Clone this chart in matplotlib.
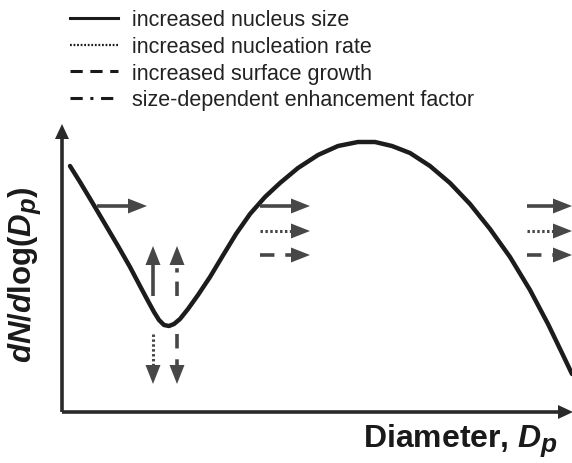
import matplotlib
matplotlib.use("Agg")
import matplotlib.pyplot as plt
from matplotlib.lines import Line2D
import matplotlib._mathtext as _mt
import numpy as np

_mt.SHRINK_FACTOR = 0.82

plt.rcParams['font.family'] = ['Liberation Sans', 'DejaVu Sans']
plt.rcParams['mathtext.fontset'] = 'custom'
plt.rcParams['mathtext.it'] = 'Liberation Sans:italic:bold'
plt.rcParams['mathtext.rm'] = 'Liberation Sans:bold'
plt.rcParams['mathtext.bf'] = 'Liberation Sans:bold'

# ---- data (schematic size distribution, arbitrary units) ----
diameter = [8, 18, 30, 43, 56, 68, 78, 86, 92, 97, 102, 107, 112, 118, 126, 136,
            148, 160, 174, 188, 203, 218, 236, 256, 276, 296, 313, 330, 348, 368,
            388, 408, 428, 448, 468, 486, 500, 510]
dndlogdp = [246, 230, 210, 188, 166, 145, 126, 111, 100, 92, 87, 86, 88, 93, 103, 117,
            135, 155, 178, 198, 215, 229, 244, 257, 266, 270, 270, 266, 259, 246,
            229, 208, 183, 155, 122, 88, 59, 38]

# arrows: (x_tail, y_tail, x_tip, y_tip, style)
arrow_tail_x = [35, 91, 115, 91, 115, 198, 198, 198, 465, 465, 465]
arrow_tail_y = [206, 116, 116, 78, 78, 206, 181, 157, 206, 181, 157]
arrow_tip_x = [85, 91, 115, 91, 115, 248, 248, 248, 510, 510, 510]
arrow_tip_y = [206, 166, 166, 28, 28, 206, 181, 157, 206, 181, 157]
arrow_style = ['solid', 'solid', 'dashdot', 'dotted', 'dashed',
               'solid', 'dotted', 'dashed', 'solid', 'dotted', 'dashed']

legend_labels = ['increased nucleus size', 'increased nucleation rate',
                 'increased surface growth', 'size-dependent enhancement factor']
legend_styles = ['solid', 'dotted', 'dashed', 'dashdot']

W, H = 572, 464
fig = plt.figure(figsize=(W / 100, H / 100), dpi=100)
ax = fig.add_axes([62 / W, (H - 413) / H, 510 / W, 288 / H])
ax.set_xlim(0, 510)
ax.set_ylim(0, 288)
ax.axis('off')

curve_c = '#1c1c1c'
arrow_c = '#474747'
axis_c = '#2a2a2a'

ax.plot(diameter, dndlogdp, color=curve_c, lw=3.2, solid_capstyle='round',
        solid_joinstyle='round', clip_on=False)

dash_map = {'solid': '-', 'dotted': (0, (0.8, 0.8)), 'dashed': (0, (4.0, 3.0)),
            'dashdot': (0, (4.0, 2.5, 1.2, 2.5))}

head_len, head_w = 19, 15


def draw_arrow(x0, y0, x1, y1, style, color, lw=2.6, hl=head_len, hw=head_w):
    d = np.array([x1 - x0, y1 - y0], dtype=float)
    L = np.hypot(*d)
    u = d / L
    n = np.array([-u[1], u[0]])
    base = np.array([x1, y1]) - u * hl
    w = 2.2 if style == 'dotted' else lw
    ax.plot([x0, base[0] + u[0] * 1], [y0, base[1] + u[1] * 1], color=color, lw=w,
            linestyle=dash_map[style], solid_capstyle='butt', dash_capstyle='butt',
            clip_on=False)
    tri = np.array([[x1, y1], base + n * hw / 2, base - n * hw / 2])
    ax.fill(tri[:, 0], tri[:, 1], color=color, lw=0, clip_on=False)


for i in range(len(arrow_style)):
    draw_arrow(arrow_tail_x[i], arrow_tail_y[i], arrow_tip_x[i], arrow_tip_y[i],
               arrow_style[i], arrow_c)

# axes with arrowheads
draw_arrow(0, 0, 0, 288, 'solid', axis_c, lw=2.6, hl=15, hw=14)
draw_arrow(0, 0, 511, 0, 'solid', axis_c, lw=2.6, hl=15, hw=14)

# legend
handles = [Line2D([0], [0], color='#1a1a1a', lw=2.2 if s != 'dotted' else 1.6,
                  linestyle={'solid': '-', 'dotted': (0, (0.8, 0.8)),
                             'dashed': (0, (4, 2.5)), 'dashdot': (0, (4, 2.5, 1, 2.5))}[s])
           for s in legend_styles]
fig.legend(handles, legend_labels, loc='upper left', bbox_to_anchor=(64 / W, 1 - 4 / H),
           frameon=False, fontsize=15.5, handlelength=2.2, handletextpad=0.68,
           labelspacing=0.26, borderaxespad=0, borderpad=0.3, labelcolor='#222222')

fig.text(558 / W, 1 - 447 / H, r'Diameter, $D_p$', fontsize=23, fontweight='bold',
         ha='right', va='baseline', color='#1a1a1a')
fig.text(25 / W, 1 - 275 / H, r'$dN/d$log($D_p$)', fontsize=22.5, fontweight='bold',
         rotation=90, ha='center', va='center', color='#1a1a1a')

fig.savefig('out.png', dpi=100)
